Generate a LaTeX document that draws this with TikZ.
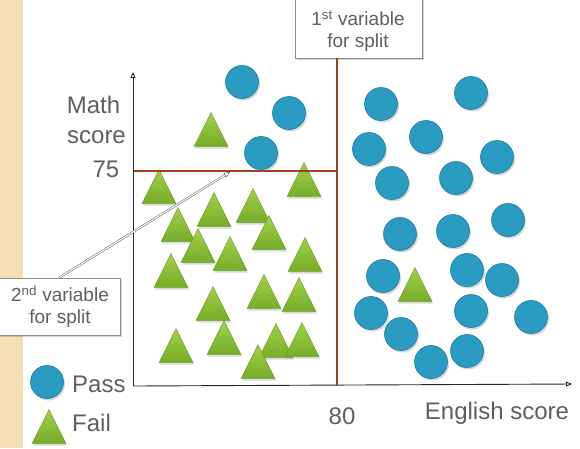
\documentclass[tikz,border=0pt]{standalone}
\usepackage{fontspec}
\setmainfont{Liberation Sans}
\usetikzlibrary{shapes.geometric,shadows,arrows.meta}
\definecolor{strip}{RGB}{244,222,180}
\definecolor{passblue}{RGB}{42,156,194}
\definecolor{passedge}{RGB}{30,122,158}
\definecolor{failtop}{RGB}{162,208,72}
\definecolor{failbot}{RGB}{118,172,40}
\definecolor{failedge}{RGB}{100,150,35}
\definecolor{splitbrown}{RGB}{160,64,30}
\definecolor{labgray}{RGB}{95,95,95}
\begin{document}
\begin{tikzpicture}[x=1pt,y=-1pt,
  pass/.style={circle,minimum size=33pt,inner sep=0pt,fill=passblue,draw=passedge,line width=0.6pt,
    drop shadow={shadow xshift=1.5pt,shadow yshift=-2pt,opacity=0.3}},
  fail/.style={isosceles triangle,isosceles triangle stretches,shape border rotate=90,
    minimum width=34pt,minimum height=34pt,inner sep=0pt,anchor=apex,
    top color=failtop,bottom color=failbot,draw=failedge,line width=0.4pt,
    drop shadow={shadow xshift=1pt,shadow yshift=-2pt,opacity=0.3}},
  axis/.style={draw=black!85,line width=0.9pt,-{Triangle[open,length=6pt,width=5pt]}},
  split/.style={draw=splitbrown,line width=1.6pt},
  splitbox/.style={rectangle,draw=black!45,fill=white,line width=0.5pt,
    drop shadow={shadow xshift=1.5pt,shadow yshift=-2pt,opacity=0.35}},
  boxtext/.style={text=labgray,align=center,font=\fontsize{19}{22}\selectfont,inner sep=0pt},
  lab/.style={text=labgray,font=\fontsize{24}{28}\selectfont,inner sep=0pt},
  callout/.style={draw=black!75,line width=0.4pt,double=white,double distance=1.2pt,
    -{Triangle[open,length=6pt,width=5pt]}}]
\useasboundingbox (0,0) rectangle (580,448);
\fill[white] (0,0) rectangle (580,448);
\fill[strip] (0,0) rectangle (23,448);

% axes
\coordinate (origin) at (133,386);
\coordinate (ytop) at (133,72);
\coordinate (xend) at (572,384);
\draw[axis] (origin) -- (ytop);
\draw[axis] (origin) -- (xend);

% Fail triangles (apex positions)
\foreach \x/\y [count=\i] in {211/112,159/169,304/162,214/192,253/188,178/207,269/215,198/228,
  230/236,305/237,171/253,213/286,264/274,299/277,224/320,176/328,276/323,302/322,258/344,415/267}
  \node[fail] (f\i) at (\x,\y) {};

% Pass circles
\foreach \x/\y [count=\i] in {242/82,289/113,261/153,381/104,471/93,426/137,369/149,497/157,
  392/183,456/178,508/220,400/234,453/231,383/276,467/270,502/280,371/313,471/311,531/317,
  401/334,467/351,431/362}
  \node[pass] (p\i) at (\x,\y) {};

% split boxes
\node[splitbox,minimum width=127pt,minimum height=70pt] (box1) at (358.5,23) {};
\node[boxtext] (box1t) at (358,31) {1\textsuperscript{st} variable\\for split};
\node[splitbox,minimum width=122pt,minimum height=57pt] (box2) at (59,306.5) {};
\node[boxtext] (box2t) at (60,307) {2\textsuperscript{nd} variable\\for split};

% split lines
\coordinate (h1) at (134,171);
\coordinate (h2) at (338,171);
\coordinate (vbot) at (337,386);
\draw[split] (h1) -- (h2);
\draw[split] (box1.south -| vbot) -- (vbot);

% callout
\coordinate (tip) at (230,172);
\draw[callout] (box2.north) -- (tip);

% axis labels
\node[lab,anchor=base] (math) at (93.5,113) {Math};
\node[lab,anchor=base] (score) at (96.5,143) {score};
\node[lab,anchor=base] (y75) at (106,177) {75};
\node[lab,anchor=base] (x80) at (342,424) {80};
\node[lab,anchor=base] (eng) at (497,419) {English score};

% legend
\node[pass] (lp) at (47,382) {};
\node[fail] (lf) at (49,409) {};
\node[lab,anchor=base west] (lpass) at (72,392) {Pass};
\node[lab,anchor=base west] (lfail) at (72,431) {Fail};
\end{tikzpicture}
\end{document}
